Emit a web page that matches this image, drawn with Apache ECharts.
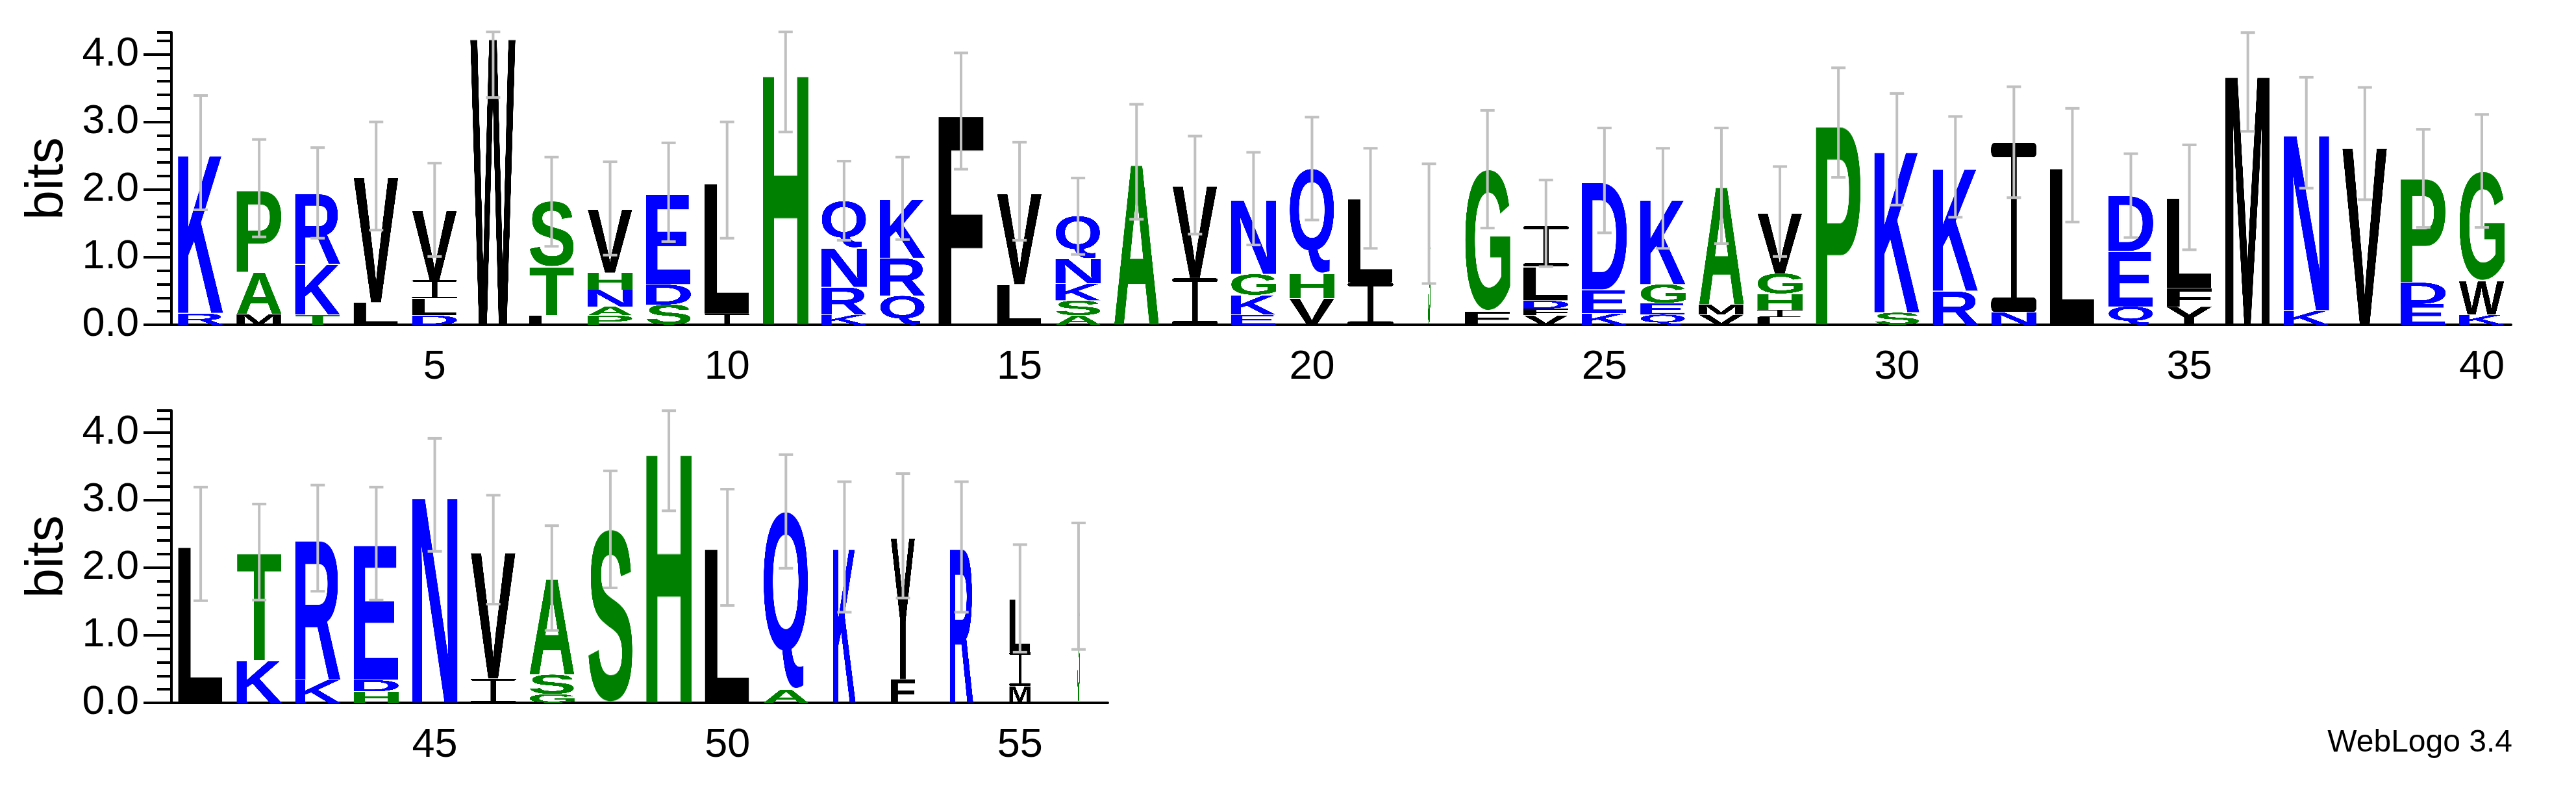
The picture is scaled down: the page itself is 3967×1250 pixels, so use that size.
<!DOCTYPE html>
<html><head><meta charset="utf-8">
<script src="https://cdn.jsdelivr.net/npm/echarts@6/dist/echarts.min.js"></script>
<style>html,body{margin:0;padding:0;background:#fff}#c{width:3967px;height:1250px}</style>
</head><body><div id="c"></div>
<script>
// Stacks per position, bottom to top: [letter, bits]
const positions = [];
for (let i = 1; i <= 56; i++) positions.push(String(i));
const stacks = [
 [['R',.17],['K',2.37]],
 [['M',.16],['A',.62],['P',1.22]],
 [['T',.15],['K',.75],['R',1.05]],
 [['L',.33],['V',1.88]],
 [['D',.14],['L',.25],['I',.27],['V',1.04]],
 [['W',4.30]],
 [['L',.14],['T',.72],['S',.97]],
 [['P',.14],['A',.13],['N',.25],['H',.25],['V',.95]],
 [['S',.3],['D',.3],['E',1.35]],
 [['I',.16],['L',1.96]],
 [['H',3.74]],
 [['K',.15],['R',.41],['N',.58],['Q',.69]],
 [['Q',.43],['R',.56],['K',.87]],
 [['F',3.14]],
 [['L',.6],['V',1.36]],
 [['A',.14],['S',.22],['K',.25],['N',.37],['Q',.63]],
 [['A',2.4]],
 [['I',.69],['V',1.38]],
 [['E',.15],['K',.29],['G',.31],['N',1.11]],
 [['V',.39],['H',.37],['Q',1.55]],
 [['I',.62],['L',1.26]],
 [['S',1.49]],
 [['F',.2],['G',2.1]],
 [['V',.14],['F',.1],['D',.12],['L',.5],['I',.6]],
 [['K',.17],['E',.35],['D',1.61]],
 [['Q',.15],['E',.17],['G',.28],['K',1.26]],
 [['V',.15],['M',.15],['A',1.76]],
 [['L',.12],['I',.1],['H',.24],['G',.3],['V',.9]],
 [['P',2.98]],
 [['S',.18],['K',2.41]],
 [['R',.5],['K',1.83]],
 [['N',.19],['I',2.5]],
 [['L',2.35]],
 [['Q',.27],['E',.82],['D',.83]],
 [['Y',.27],['F',.27],['L',1.35]],
 [['M',3.73]],
 [['K',.21],['N',2.63]],
 [['V',2.66]],
 [['E',.31],['D',.32],['P',1.55]],
 [['K',.15],['W',.5],['G',1.62]],
 [['L',2.34]],
 [['K',.63],['T',1.6]],
 [['K',.34],['R',2.09]],
 [['H',.17],['D',.17],['E',2.02]],
 [['N',3.08]],
 [['I',.36],['V',1.89]],
 [['G',.13],['S',.29],['A',1.43]],
 [['S',2.57]],
 [['H',3.73]],
 [['L',2.31]],
 [['A',.2],['Q',2.63]],
 [['K',2.31]],
 [['F',.35],['Y',2.12]],
 [['R',2.31]],
 [['M',.25],['I',.5],['L',.79]],
 [['S',1.71]]
];
// relative column width (fraction of non-gap)
const widths = [1,1,1,1,1,1,1,1,1,1,1,1,1,1,1,1,1,1,1,1,1,.06,1,1,1,1,1,1,1,1,1,1,1,1,1,1,1,1,1,1,
                1,1,1,1,1,1,1,1,1,1,1,.5,.53,.52,.47,.05];
const errLow = [1.7,1.3,1.28,1.4,1.01,3.36,1.16,1.03,1.23,1.28,2.85,1.25,1.26,2.30,1.25,1.04,1.56,1.34,1.18,1.55,
                1.13,.61,1.43,.86,1.36,1.13,1.2,1.01,2.18,1.77,1.59,1.88,1.52,1.29,1.11,2.86,2.02,1.85,1.44,1.44,
                1.51,1.52,1.65,1.52,2.24,1.46,1.07,1.7,2.84,1.44,1.99,1.34,1.55,1.34,.75,.79];
const errHigh = [3.39,2.74,2.62,3.0,2.39,4.33,2.48,2.41,2.69,3.0,4.33,2.42,2.48,4.02,2.7,2.17,3.26,2.79,2.55,3.07,
                 2.61,2.38,3.17,2.14,2.91,2.61,2.91,2.34,3.8,3.42,3.08,3.52,3.2,2.53,2.66,4.32,3.66,3.51,2.89,3.11,
                 3.19,2.94,3.22,3.19,3.91,3.07,2.62,3.43,4.32,3.16,3.67,3.27,3.39,3.27,2.34,2.66];
const yTicks = [0,1,2,3,4];

const colors = {K:'#0000ff',R:'#0000ff',D:'#0000ff',E:'#0000ff',N:'#0000ff',Q:'#0000ff',
  P:'#008000',A:'#008000',G:'#008000',S:'#008000',T:'#008000',H:'#008000',
  V:'#000000',L:'#000000',I:'#000000',W:'#000000',F:'#000000',M:'#000000',Y:'#000000'};
const cache = {};
function glyph(ch){
  if (cache[ch]) return cache[ch];
  const c = document.createElement('canvas');
  if (ch === 'I') {
    c.width = 200; c.height = 400;
    const ctx = c.getContext('2d'); ctx.fillStyle = colors[ch];
    const rr = (x,y,w,h,r) => { ctx.beginPath(); ctx.moveTo(x+r,y); ctx.arcTo(x+w,y,x+w,y+h,r); ctx.arcTo(x+w,y+h,x,y+h,r);
      ctx.arcTo(x,y+h,x,y,r); ctx.arcTo(x,y,x+w,y,r); ctx.closePath(); ctx.fill(); };
    rr(0,0,200,34,14); rr(0,366,200,34,14); ctx.fillRect(88,10,24,380);
    cache[ch] = c; return c;
  }
  const font = 'bold 400px "Liberation Sans", Arial, sans-serif';
  let ctx = c.getContext('2d'); ctx.font = font;
  const m = ctx.measureText(ch);
  const l = m.actualBoundingBoxLeft, r = m.actualBoundingBoxRight, a = m.actualBoundingBoxAscent, d = m.actualBoundingBoxDescent;
  c.width = Math.ceil(l + r); c.height = Math.ceil(a + d);
  ctx = c.getContext('2d'); ctx.font = font; ctx.fillStyle = colors[ch] || '#000';
  ctx.fillText(ch, l, a);
  cache[ch] = c; return c;
}
const YMAX = Math.log2(20);
function buildItems(from, to){
  const items = [];
  for (let p = from; p < to; p++){
    let y = 0;
    stacks[p].forEach(([ch,h]) => { items.push({v:[p-from, y, y+h], ch, w:widths[p]}); y += h; });
  }
  return items;
}
function buildErr(from, to){
  const out = [];
  for (let p = from; p < to; p++) out.push([p-from, errLow[p], errHigh[p]]);
  return out;
}
const topItems = buildItems(0,40), botItems = buildItems(40,56);
function letterRender(items){
  return function(params, api){
    const it = items[params.dataIndex];
    const p0 = api.coord([it.v[0], it.v[1]]), p1 = api.coord([it.v[0], it.v[2]]);
    const bw = api.size([1,0])[0] * 0.78 * it.w;
    return {type:'image', style:{image: glyph(it.ch), x: p0[0]-bw/2, y: p1[1], width: bw, height: p0[1]-p1[1]}};
  };
}
function errRender(params, api){
  const x = api.coord([api.value(0), api.value(1)])[0];
  const yl = api.coord([api.value(0), api.value(1)])[1], yh = api.coord([api.value(0), api.value(2)])[1];
  const st = {stroke:'#c0c0c0', lineWidth:4};
  return {type:'group', children:[
    {type:'line', shape:{x1:x,y1:yl,x2:x,y2:yh}, style:st},
    {type:'line', shape:{x1:x-11,y1:yl,x2:x+11,y2:yl}, style:st},
    {type:'line', shape:{x1:x-11,y1:yh,x2:x+11,y2:yh}, style:st}
  ]};
}
const FONT = '"Liberation Sans", Arial, sans-serif';
function xAxes(gi, cats){
  const base = {type:'category', gridIndex:gi, data:cats, boundaryGap:true, position:'bottom',
    axisLine:{lineStyle:{color:'#000', width:4}}, splitLine:{show:false}};
  return [
    Object.assign({}, base, {axisTick:{alignWithLabel:true, interval:0, length:10, lineStyle:{width:4, color:'#000'}},
      axisLabel:{interval:0, margin:34, fontSize:63, color:'#000', fontFamily:FONT,
        formatter: v => (Number(v)%5===0 ? v : '')}}),
    Object.assign({}, base, {axisLine:{show:false}, axisTick:{alignWithLabel:true, length:22,
      interval:(i,v)=>Number(v)%5===0, lineStyle:{width:4,color:'#000'}}, axisLabel:{show:false}})
  ];
}
function yAxes(gi){
  return [
    {type:'value', gridIndex:gi, position:'left', min:0, max:YMAX, interval:1, name:'bits', nameLocation:'middle', nameGap:150,
     nameTextStyle:{fontSize:82, color:'#000', fontFamily:FONT},
     axisLine:{show:true, lineStyle:{color:'#000', width:4}}, splitLine:{show:false},
     axisTick:{show:true, length:43, lineStyle:{width:4,color:'#000'}},
     axisLabel:{fontSize:63, color:'#000', margin:50, fontFamily:FONT, showMaxLabel:false,
       formatter: v => (yTicks.indexOf(v) >= 0 ? v.toFixed(1) : '')}},
    {type:'value', gridIndex:gi, position:'left', offset:0, min:0, max:YMAX, interval:0.2, axisLine:{show:false}, splitLine:{show:false},
     axisTick:{show:true, length:22, lineStyle:{width:4,color:'#000'}}, axisLabel:{show:false}}
  ];
}
const chart = echarts.init(document.getElementById('c'));
chart.setOption({
  animation:false, backgroundColor:'#fff',
  grid:[{left:264, top:50, width:3603, height:450}, {left:264, top:632, width:1442, height:450}],
  xAxis: xAxes(0, positions.slice(0,40)).concat(xAxes(1, positions.slice(40,56))),
  yAxis: yAxes(0).concat(yAxes(1)),
  series:[
    {type:'custom', xAxisIndex:0, yAxisIndex:0, renderItem: letterRender(topItems), data: topItems.map(d=>d.v), clip:false},
    {type:'custom', xAxisIndex:0, yAxisIndex:0, renderItem: errRender, data: buildErr(0,40), z:3},
    {type:'custom', xAxisIndex:2, yAxisIndex:2, renderItem: letterRender(botItems), data: botItems.map(d=>d.v), clip:false},
    {type:'custom', xAxisIndex:2, yAxisIndex:2, renderItem: errRender, data: buildErr(40,56), z:3}
  ],
  graphic:[{type:'text', right:98, top:1120, style:{text:'WebLogo 3.4', fontSize:48, fill:'#000', fontFamily:FONT}}]
});
</script></body></html>
